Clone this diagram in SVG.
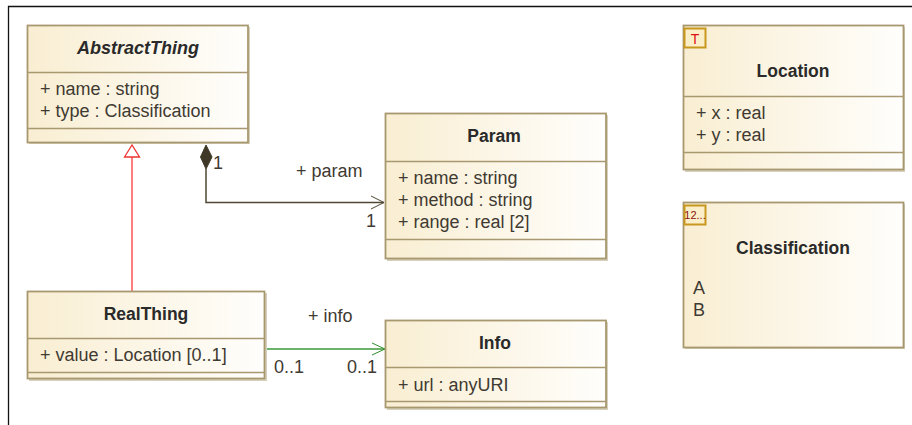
<svg xmlns="http://www.w3.org/2000/svg" width="912" height="425" viewBox="0 0 912 425">
<style>
text{font-family:"Liberation Sans",Arial,sans-serif;font-size:18px;fill:#3f3a32}
.t{font-weight:bold;font-size:17.500px;text-anchor:middle;fill:#2a2a2a}
.box{fill:url(#g);stroke:#a8986f;stroke-width:1.800}
.shadow{fill:#d6d0bd}
.sep{stroke:#a8986f;stroke-width:1.500;fill:none}
.ico{fill:#fbeec8;stroke:#c8981e;stroke-width:2}
</style>
<defs>
<linearGradient id="g" x1="0" x2="1" y1="0" y2="0"><stop offset="0" stop-color="#f9eed2"/><stop offset="1" stop-color="#fffefc"/></linearGradient>
</defs>
<rect width="912" height="425" fill="#fff"/>
<path d="M8.500 425V6.500H912" fill="none" stroke="#111" stroke-width="1.300"/>
<g id="connectors" fill="none">
<path d="M132 291V156" stroke="#f55" stroke-width="1.500"/>
<path d="M132 145L124.500 157H139.500Z" stroke="#e33" stroke-width="1.300" fill="#fff"/>
<path d="M206 145L200.500 157L206 169L212 157Z" fill="#3f3826" stroke="#3f3826"/>
<path d="M206 169V202.500H384" stroke="#4f4733" stroke-width="1.500"/>
<path d="M371 196L384 202.500L371 209" stroke="#4f4733"/>
<path d="M267 349H385" stroke="#3a9a3a" stroke-width="1.500"/>
<path d="M372 343L385 349L372 355" stroke="#2f8f2f"/>
<text x="213" y="169">1</text>
<text x="296" y="177">+ param</text>
<text x="366" y="227">1</text>
<text x="308" y="322">+ info</text>
<text x="274" y="373">0..1</text>
<text x="347" y="373">0..1</text>
</g>
<g id="AbstractThing">
<rect class="shadow" x="29" y="27" width="221" height="117"/>
<rect class="box" x="27.500" y="25.500" width="220.500" height="117"/>
<path class="sep" d="M27.500 72.500H248M27.500 128.500H248"/>
<text class="t" x="138" y="54" font-style="italic" style="font-size:18px">AbstractThing</text>
<text x="40" y="95">+ name : string</text>
<text x="40" y="117">+ type : Classification</text>
</g>
<g id="Param">
<rect class="shadow" x="387" y="115" width="221" height="146"/>
<rect class="box" x="385.500" y="113.500" width="220.500" height="145"/>
<path class="sep" d="M385.500 161.500H606M385.500 239.500H606"/>
<text class="t" x="494" y="142">Param</text>
<text x="398" y="184">+ name : string</text>
<text x="398" y="206">+ method : string</text>
<text x="398" y="228">+ range : real [2]</text>
</g>
<g id="RealThing">
<rect class="shadow" x="29" y="293" width="238" height="88"/>
<rect class="box" x="27.500" y="291.500" width="237" height="87"/>
<path class="sep" d="M27.500 338.500H264.500M27.500 372.500H264.500"/>
<text class="t" x="146" y="320">RealThing</text>
<text x="40" y="361">+ value : Location [0..1]</text>
</g>
<g id="Info">
<rect class="shadow" x="387" y="322" width="221" height="88"/>
<rect class="box" x="385.500" y="320.500" width="220.500" height="87"/>
<path class="sep" d="M385.500 367.500H606M385.500 401.500H606"/>
<text class="t" x="495" y="349">Info</text>
<text x="398" y="391">+ url : anyURI</text>
</g>
<g id="Location">
<rect class="shadow" x="685" y="27" width="220" height="145"/>
<rect class="box" x="683.500" y="25.500" width="220" height="144"/>
<path class="sep" d="M683.500 96.500H903.500M683.500 152.500H903.500"/>
<rect class="ico" x="684.500" y="28.500" width="21" height="19"/>
<text x="695" y="44" text-anchor="middle" style="fill:#d11;font-size:14px">T</text>
<text class="t" x="793" y="77">Location</text>
<text x="696" y="119">+ x : real</text>
<text x="696" y="141">+ y : real</text>
</g>
<g id="Classification">
<rect class="shadow" x="685" y="204" width="220" height="145"/>
<rect class="box" x="683.500" y="202.500" width="220" height="145"/>
<rect class="ico" x="684.500" y="205.500" width="21" height="19"/>
<text x="695" y="219" text-anchor="middle" style="fill:#811;font-size:11px">12...</text>
<text class="t" x="793" y="254">Classification</text>
<text x="693" y="294">A</text>
<text x="693" y="316">B</text>
</g>
</svg>
